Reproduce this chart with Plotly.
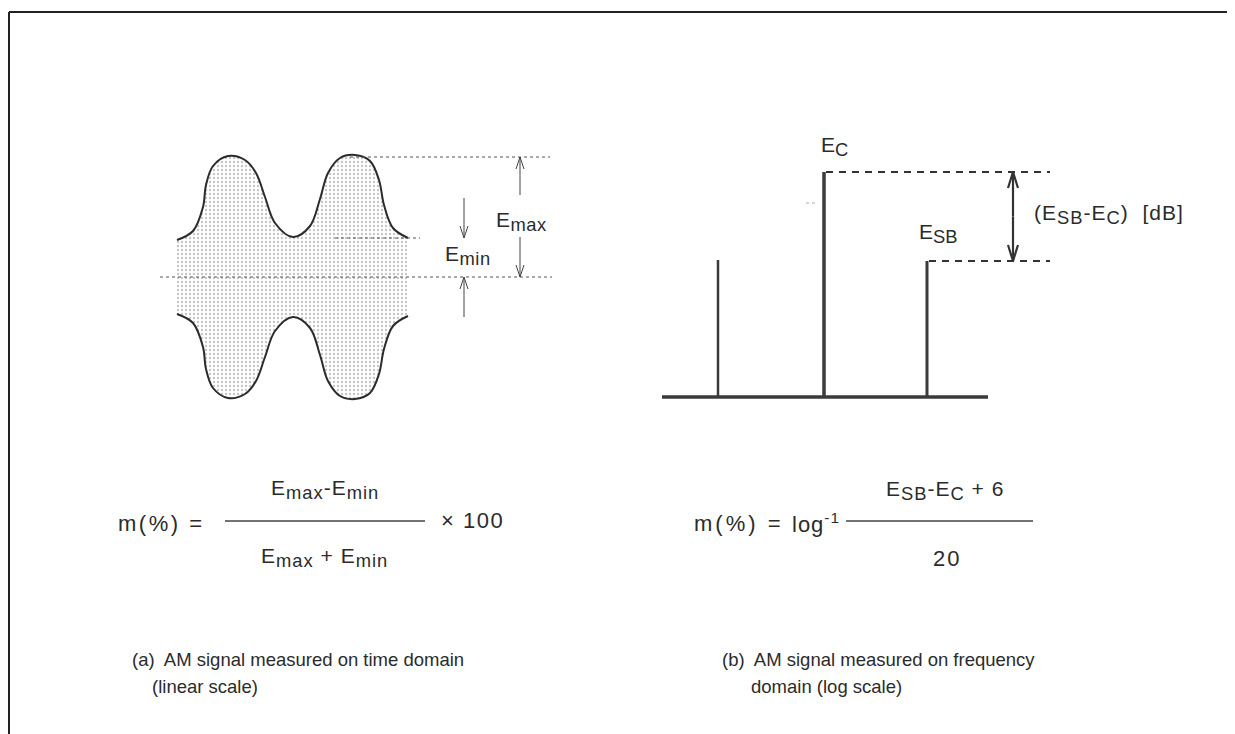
import plotly.graph_objects as go

# ---------------- data (diagram units = picture pixels, y grows downward) -------------
# AM envelope, upper half
env_x = [177, 193, 203, 206, 213, 228, 245, 256, 265, 275, 293, 310, 320, 328, 340, 355, 370, 379, 384, 393, 408]
env_upper = [240, 231, 207, 185, 166, 156, 160, 173, 197, 223, 237, 226, 199, 173, 158, 155, 161, 180, 205, 228, 238]
env_center = 277          # zero level of the AM signal

# spectrum lines: lower sideband, carrier, upper sideband
spec_freq = [718, 824, 927]
spec_level = [260, 172, 261]
spec_width = [2.5, 3.5, 3.0]
spec_base = [397, 662, 988]   # baseline level, start, end

# levels marked in the time domain view
emax_level = 157
emin_level = 238

INK = "#2b2b2b"
FONT = "Liberation Sans"
OFF = 8   # page body margin of the browser

fig = go.Figure()

# ---------------- envelope (time domain) ----------------
env_lower = [2 * env_center - v for v in env_upper]
fig.add_trace(go.Scatter(x=env_x, y=env_lower, mode="lines",
                         line=dict(color=INK, width=2, shape="spline"), hoverinfo="skip"))
fig.add_trace(go.Scatter(x=env_x, y=env_upper, mode="lines",
                         line=dict(color=INK, width=2, shape="spline"),
                         fill="tonexty", fillcolor="rgba(0,0,0,0)",
                         fillpattern=dict(shape=".", size=4, solidity=0.28,
                                          fgcolor="#8a8a8a", bgcolor="rgba(0,0,0,0)"),
                         hoverinfo="skip"))

def dotted(x0, x1, y, color="#555", width=1.2, dash="dot"):
    fig.add_trace(go.Scatter(x=[x0, x1], y=[y, y], mode="lines",
                             line=dict(color=color, width=width, dash=dash), hoverinfo="skip"))

dotted(350, 550, emax_level)
dotted(335, 420, emin_level)
dotted(160, 552, env_center)

def arrow(x, tail, head, hl=12, hw=4, width=1, color="#444"):
    d = 1 if head > tail else -1
    xs = [x, x, None, x - hw, x, x + hw]
    ys = [tail, head, None, head - d * hl, head, head - d * hl]
    fig.add_trace(go.Scatter(x=xs, y=ys, mode="lines",
                             line=dict(color=color, width=width), hoverinfo="skip"))

# E_max arrows
arrow(520, 195, emax_level)
arrow(520, 237, env_center)
# E_min arrows
arrow(464, 198, emin_level)
arrow(464, 317, env_center)

# ---------------- spectrum (frequency domain) ----------------
fig.add_trace(go.Scatter(x=[spec_base[1], spec_base[2]], y=[spec_base[0], spec_base[0]],
                         mode="lines", line=dict(color="#3a3a3a", width=3.5), hoverinfo="skip"))
for f, lv, w in zip(spec_freq, spec_level, spec_width):
    fig.add_trace(go.Scatter(x=[f, f], y=[spec_base[0], lv], mode="lines",
                             line=dict(color="#3a3a3a", width=w), hoverinfo="skip"))

dotted(spec_freq[1] + 2, 1050, spec_level[1], color="#333", width=2, dash="7px,6px")
dotted(spec_freq[2] + 2, 1050, spec_level[2], color="#333", width=2, dash="7px,6px")
dotted(806, 818, 203, color="#aaa", width=1, dash="dot")

# double arrow between carrier and sideband
mid = (spec_level[1] + spec_level[2]) / 2
arrow(1013, mid, spec_level[1], hl=16, hw=5, width=2.2, color="#333")
arrow(1013, mid, spec_level[2], hl=16, hw=5, width=2.2, color="#333")

# ---------------- formula bars ----------------
fig.add_trace(go.Scatter(x=[225, 425], y=[521, 521], mode="lines",
                         line=dict(color="#444", width=1.3), hoverinfo="skip"))
fig.add_trace(go.Scatter(x=[846, 1033], y=[521, 521], mode="lines",
                         line=dict(color="#444", width=1.3), hoverinfo="skip"))

# ---------------- texts ----------------
def sub(s, pct=125):
    return "<sub><span style='font-size:%d%%'>%s</span></sub>" % (pct, s)

def txt(x, y, s, size=18, xanchor="left", ls=0):
    if ls:
        s = "<span style='letter-spacing:%spx'>%s</span>" % (ls, s)
    fig.add_annotation(x=x, y=y, text=s, showarrow=False, xanchor=xanchor, yanchor="middle",
                       font=dict(family=FONT, size=size, color=INK))

txt(494, 221, "E" + sub("max"), 21, ls=0.5)
txt(443, 255, "E" + sub("min"), 21, ls=0.5)
txt(819, 146, "E" + sub("C"), 21)
txt(917, 233, "E" + sub("SB"), 21)
txt(1032, 214, "(E" + sub("SB") + "-E" + sub("C") + ")  [dB]", 21, ls=1)

txt(116, 523, "m(%) = ", 22, ls=2.5)
txt(325, 489, "E" + sub("max") + "-E" + sub("min"), 21, "center", ls=1)
txt(324, 557, "E" + sub("max") + " + E" + sub("min"), 21, "center", ls=1)
txt(439, 520, "× 100", 22, ls=1.5)

txt(692, 523, "m(%) =", 22, ls=3)
txt(790, 523, "log<sup>-1</sup>", 22, ls=1)
txt(945, 490, "E" + sub("SB") + "-E" + sub("C") + " + 6", 21, "center", ls=1)
txt(947, 558, "20", 22, "center", ls=2)

txt(130, 659, "(a)  AM signal measured on time domain", 18.5)
txt(150, 686, "(linear scale)", 18.5)
txt(720, 659, "(b)  AM signal measured on frequency", 18.5)
txt(749, 686, "domain (log scale)", 18.5)

# ---------------- frame ----------------
fig.add_shape(type="line", x0=9, x1=1260, y0=12, y1=12, line=dict(color="#222", width=2))
fig.add_shape(type="line", x0=9, x1=9, y0=12, y1=760, line=dict(color="#222", width=2))

fig.update_layout(
    width=1235, height=734, margin=dict(l=0, r=0, t=0, b=0),
    paper_bgcolor="white", plot_bgcolor="white", showlegend=False,
    xaxis=dict(range=[OFF, 1235 + OFF], visible=False, fixedrange=True),
    yaxis=dict(range=[734 + OFF, OFF], visible=False, fixedrange=True),
)
fig.write_html("out.html")
